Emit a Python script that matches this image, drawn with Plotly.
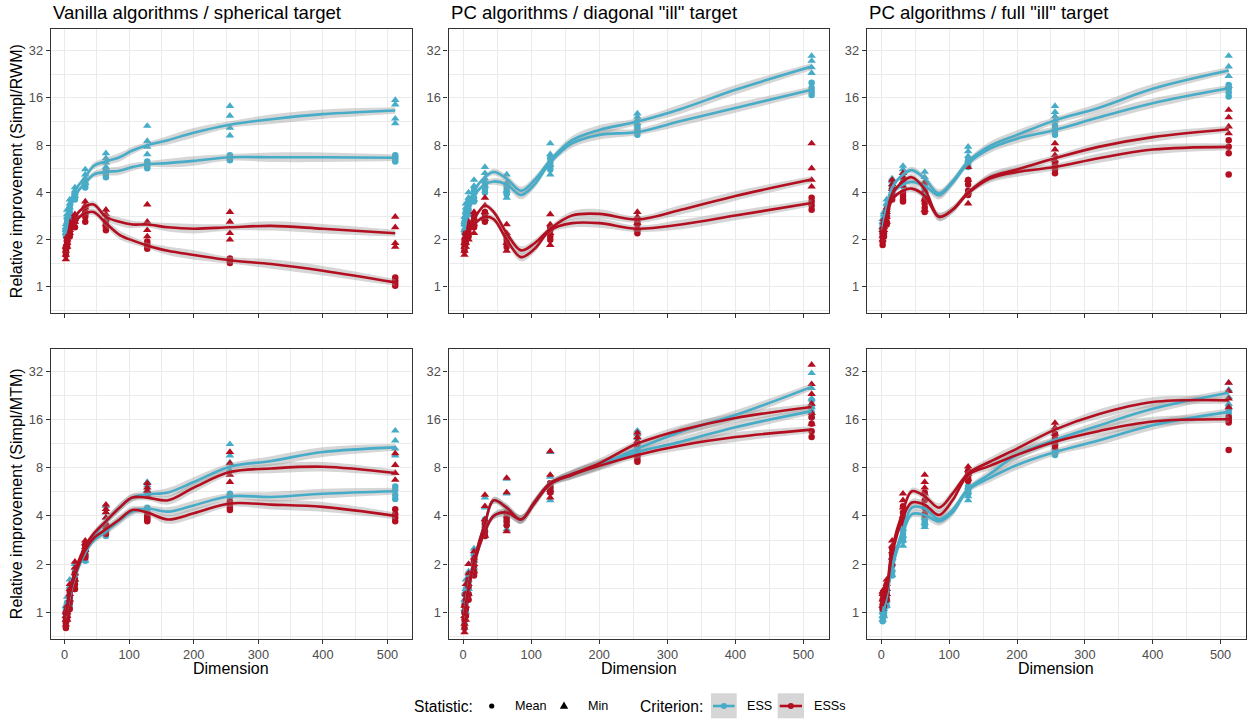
import math
import plotly.graph_objects as go

W, H = 1252, 720
C_ESS = "#46ACC8"
C_ESSS = "#B40F20"
FONT = "Liberation Sans, Arial, sans-serif"

# ---------------- data ----------------
dims = [2, 4, 8, 16, 32, 64, 128, 256, 512]
sm_x = [2, 8, 16, 32, 45, 64, 85, 105, 128, 160, 200, 256, 320, 400, 512]
band_hw = [0.08, 0.05, 0.05, 0.05, 0.07, 0.08, 0.09, 0.08, 0.06, 0.09, 0.10, 0.07, 0.10, 0.10, 0.07]

titles = ["Vanilla algorithms / spherical target",
          "PC algorithms / diagonal \"ill\" target",
          "PC algorithms / full \"ill\" target"]
ylabels = ["Relative improvement (Simpl/RWM)", "Relative improvement (Simpl/MTM)"]
x_ticks = [0, 100, 200, 300, 400, 500]
y_ticks = [1, 2, 4, 8, 16, 32]

# Panel 1: vanilla / spherical, Simpl/RWM
van_rwm_ess_min = [[2.2, 2.3, 2.4, 2.5], [2.6, 2.8, 2.9, 3.1], [3.0, 3.2, 3.4, 3.6], [3.8, 4.0, 4.1, 4.3], [4.6, 4.9, 5.2, 5.6], [5.8, 6.2, 6.6, 7.1], [7.0, 7.8, 8.5, 10.6], [9.2, 10.3, 12.3, 14.2], [11.0, 11.8, 14.5, 15.5]]
van_rwm_ess_mean = [[2.1, 2.2, 2.3, 2.3], [2.4, 2.5, 2.6, 2.7], [2.8, 2.9, 3.0, 3.2], [3.6, 3.7, 3.8, 3.9], [4.3, 4.5, 4.6, 4.8], [5.0, 5.2, 5.4, 5.6], [5.7, 5.9, 6.1, 6.3], [6.4, 6.6, 6.7, 6.9], [6.3, 6.5, 6.7, 6.9]]
van_rwm_esss_min = [[1.5, 1.6, 1.7, 1.8], [1.8, 1.9, 2.0, 2.1], [2.2, 2.3, 2.5, 2.6], [2.6, 2.7, 2.8, 2.9], [3.0, 3.2, 3.3, 3.5], [2.5, 2.7, 2.9, 3.1], [2.1, 2.3, 2.6, 3.35], [2.0, 2.2, 2.6, 3.0], [1.8, 1.9, 2.4, 2.8]]
van_rwm_esss_mean = [[1.6, 1.7, 1.75, 1.8], [1.8, 1.9, 1.95, 2.0], [2.1, 2.2, 2.3, 2.4], [2.4, 2.6, 2.7, 2.8], [2.6, 2.8, 2.9, 3.0], [2.3, 2.4, 2.5, 2.6], [1.75, 1.8, 1.88, 1.95], [1.42, 1.46, 1.5, 1.52], [1.02, 1.06, 1.1, 1.15]]
van_rwm_sm_ess_min = [2.3, 3.3, 4.1, 5.0, 5.9, 6.3, 6.7, 7.4, 8.0, 8.6, 9.6, 10.8, 11.7, 12.6, 13.3]
van_rwm_sm_ess_mean = [2.2, 3.0, 3.8, 4.6, 5.2, 5.4, 5.5, 5.8, 6.05, 6.15, 6.35, 6.7, 6.7, 6.7, 6.65]
van_rwm_sm_esss_min = [1.7, 2.4, 2.8, 3.25, 3.35, 2.8, 2.6, 2.5, 2.5, 2.4, 2.35, 2.4, 2.45, 2.35, 2.2]
van_rwm_sm_esss_mean = [1.7, 2.2, 2.6, 2.95, 3.0, 2.55, 2.15, 1.98, 1.84, 1.7, 1.6, 1.48, 1.4, 1.27, 1.07]

# Panel 2: PC / diagonal ill, Simpl/RWM
diag_rwm_ess_min = [[2.3, 2.5, 2.6, 2.8], [2.8, 3.0, 3.2, 3.4], [3.0, 3.4, 3.7, 4.0], [3.6, 4.0, 4.4, 4.8], [4.4, 4.9, 5.3, 5.8], [3.7, 4.1, 4.6, 5.2], [5.2, 6.0, 7.0, 8.2], [11.0, 11.6, 12.1, 12.7], [23.0, 25.0, 27.5, 29.6]]
diag_rwm_ess_mean = [[2.2, 2.3, 2.5, 2.6], [2.6, 2.7, 2.9, 3.0], [2.9, 3.1, 3.3, 3.5], [3.5, 3.7, 4.0, 4.2], [4.0, 4.2, 4.4, 4.6], [3.9, 4.0, 4.2, 4.4], [5.6, 5.9, 6.2, 6.6], [9.3, 9.7, 10.1, 10.5], [16.7, 17.5, 18.5, 20.0]]
diag_rwm_esss_min = [[1.6, 1.7, 1.8, 1.9], [1.8, 1.9, 2.1, 2.2], [2.0, 2.2, 2.4, 2.6], [2.2, 2.5, 2.7, 3.0], [2.7, 3.0, 3.3, 3.7], [1.7, 1.9, 2.2, 2.5], [1.85, 2.2, 2.5, 2.9], [2.35, 2.55, 2.8, 3.0], [4.35, 4.8, 5.7, 8.2]]
diag_rwm_esss_mean = [[1.7, 1.8, 1.9, 2.0], [1.9, 2.0, 2.1, 2.2], [2.1, 2.2, 2.4, 2.5], [2.4, 2.5, 2.7, 2.8], [2.6, 2.7, 2.9, 3.0], [1.8, 1.9, 2.0, 2.1], [2.0, 2.1, 2.3, 2.4], [2.2, 2.3, 2.5, 2.6], [3.1, 3.3, 3.5, 3.7]]
diag_rwm_sm_ess_min = [2.4, 3.3, 4.1, 5.0, 5.4, 4.9, 4.1, 4.8, 6.4, 8.6, 10.0, 11.3, 13.6, 18.0, 25.3]
diag_rwm_sm_ess_mean = [2.3, 3.1, 3.8, 4.5, 4.7, 4.5, 3.85, 4.5, 6.2, 8.2, 9.3, 9.7, 11.4, 13.8, 18.0]
diag_rwm_sm_esss_min = [1.8, 2.3, 2.7, 3.3, 3.0, 2.2, 1.71, 1.9, 2.35, 2.85, 2.92, 2.69, 3.1, 3.8, 4.83]
diag_rwm_sm_esss_mean = [1.8, 2.2, 2.5, 2.8, 2.7, 2.0, 1.55, 1.75, 2.3, 2.55, 2.55, 2.35, 2.5, 2.85, 3.43]

# Panel 3: PC / full ill, Simpl/RWM
full_rwm_ess_min = [[2.3, 2.4, 2.6, 2.7], [2.6, 2.8, 2.9, 3.0], [2.9, 3.1, 3.4, 3.6], [4.3, 4.5, 4.7, 4.9], [5.0, 5.3, 5.6, 5.9], [4.3, 4.7, 5.0, 5.4], [6.4, 6.8, 7.3, 7.8], [11.5, 12.2, 13.0, 14.2], [19.0, 22.0, 25.3, 29.6]]
full_rwm_ess_mean = [[2.2, 2.3, 2.4, 2.5], [2.5, 2.6, 2.8, 2.9], [2.8, 3.0, 3.1, 3.3], [3.9, 4.0, 4.2, 4.4], [4.4, 4.6, 4.8, 5.0], [3.9, 4.1, 4.3, 4.5], [5.8, 6.0, 6.2, 6.4], [9.3, 9.8, 10.2, 10.7], [16.3, 17.3, 18.3, 19.3]]
full_rwm_esss_min = [[2.0, 2.1, 2.3, 2.4], [2.3, 2.4, 2.6, 2.7], [2.6, 2.8, 3.0, 3.2], [3.9, 4.2, 4.5, 4.8], [4.4, 4.7, 5.0, 5.3], [3.1, 3.6, 4.1, 4.6], [3.4, 4.0, 4.8, 5.8], [6.4, 6.9, 7.5, 8.2], [9.5, 10.5, 12.0, 13.4]]
full_rwm_esss_mean = [[1.85, 1.95, 2.1, 2.2], [2.1, 2.2, 2.4, 2.5], [2.5, 2.6, 2.8, 3.0], [3.6, 3.8, 4.0, 4.2], [3.5, 3.6, 3.8, 4.0], [3.0, 3.2, 3.4, 3.6], [3.85, 4.1, 4.5, 4.8], [5.3, 5.6, 5.9, 6.1], [5.2, 7.1, 7.8, 8.6]]
full_rwm_sm_ess_min = [2.4, 3.3, 4.3, 5.2, 5.55, 4.9, 3.94, 4.7, 6.3, 7.9, 9.3, 11.5, 13.8, 18.3, 23.9]
full_rwm_sm_ess_mean = [2.3, 3.1, 3.9, 4.5, 4.67, 4.4, 3.84, 4.6, 6.1, 7.6, 8.8, 10.0, 12.0, 14.8, 18.4]
full_rwm_sm_esss_min = [2.2, 2.9, 3.9, 4.7, 5.0, 4.2, 2.8, 3.1, 4.0, 5.0, 5.6, 6.6, 7.8, 9.0, 10.1]
full_rwm_sm_esss_mean = [2.0, 2.7, 3.6, 4.1, 4.23, 3.8, 2.8, 3.1, 3.95, 4.9, 5.4, 5.8, 6.6, 7.5, 7.8]

# Panel 4: vanilla / spherical, Simpl/MTM
van_mtm_ess_min = [[0.9, 0.95, 1.0, 1.1], [1.0, 1.1, 1.15, 1.25], [1.2, 1.3, 1.45, 1.6], [1.6, 1.75, 1.9, 2.0], [2.1, 2.3, 2.5, 2.7], [3.6, 3.9, 4.2, 4.6], [5.5, 5.8, 6.2, 6.5], [7.7, 8.6, 9.5, 11.2], [9.5, 10.5, 11.8, 13.6]]
van_mtm_ess_mean = [[0.85, 0.9, 1.0, 1.05], [0.95, 1.0, 1.1, 1.15], [1.1, 1.2, 1.3, 1.4], [1.4, 1.5, 1.65, 1.8], [2.1, 2.2, 2.35, 2.5], [3.0, 3.1, 3.25, 3.4], [4.1, 4.2, 4.35, 4.5], [5.2, 5.3, 5.4, 5.5], [5.1, 5.4, 5.8, 6.1]]
van_mtm_esss_min = [[0.84, 0.9, 0.95, 1.0], [0.9, 0.95, 1.0, 1.1], [1.2, 1.3, 1.4, 1.5], [1.6, 1.75, 1.9, 2.07], [2.45, 2.55, 2.7, 2.8], [3.9, 4.2, 4.4, 4.7], [5.4, 5.7, 6.0, 6.4], [6.5, 7.2, 8.5, 10.0], [6.7, 7.4, 8.3, 9.8]]
van_mtm_esss_mean = [[0.8, 0.87, 0.93, 1.0], [0.9, 0.95, 1.0, 1.05], [1.05, 1.15, 1.25, 1.35], [1.4, 1.5, 1.6, 1.75], [2.2, 2.3, 2.45, 2.6], [3.1, 3.2, 3.35, 3.5], [3.7, 3.8, 3.9, 4.0], [4.35, 4.5, 4.7, 4.9], [3.7, 3.9, 4.1, 4.4]]
van_mtm_sm_ess_min = [1.0, 1.3, 1.75, 2.45, 3.0, 3.7, 4.5, 5.2, 5.45, 5.6, 6.5, 8.1, 8.8, 10.0, 10.7]
van_mtm_sm_ess_mean = [0.95, 1.25, 1.65, 2.35, 2.8, 3.2, 3.75, 4.25, 4.45, 4.25, 4.65, 5.3, 5.25, 5.5, 5.7]
van_mtm_sm_esss_min = [0.95, 1.35, 1.8, 2.6, 3.1, 3.7, 4.5, 5.2, 5.2, 5.0, 6.0, 7.5, 7.9, 8.1, 7.4]
van_mtm_sm_esss_mean = [0.95, 1.3, 1.7, 2.45, 2.9, 3.3, 3.8, 4.35, 4.2, 3.8, 4.15, 4.78, 4.7, 4.55, 4.0]

# Panel 5: PC / diagonal ill, Simpl/MTM
diag_mtm_ess_min = [[0.8, 0.95, 1.05, 1.2], [1.0, 1.2, 1.4, 1.6], [1.4, 1.6, 1.8, 2.0], [1.9, 2.1, 2.3, 2.5], [3.0, 3.8, 4.5, 5.2], [3.3, 4.0, 5.5, 6.8], [5.0, 5.6, 7.0, 10.0], [11.5, 12.2, 12.9, 13.6], [19.0, 21.5, 25.0, 31.0]]
diag_mtm_ess_mean = [[0.85, 1.0, 1.15, 1.3], [1.0, 1.15, 1.3, 1.4], [1.3, 1.4, 1.55, 1.7], [1.8, 1.95, 2.1, 2.3], [3.0, 3.2, 3.5, 3.8], [3.5, 3.7, 3.9, 4.2], [5.7, 5.9, 6.1, 6.4], [9.5, 10.0, 10.5, 11.0], [16.5, 17.8, 19.3, 21.0]]
diag_mtm_esss_min = [[0.75, 0.85, 0.95, 1.1], [0.9, 1.1, 1.3, 1.5], [1.3, 1.5, 1.75, 2.0], [1.8, 2.0, 2.2, 2.4], [3.0, 3.8, 4.6, 5.4], [3.2, 4.2, 5.6, 6.9], [5.2, 5.8, 7.2, 10.1], [11.0, 11.7, 12.4, 13.2], [15.0, 17.5, 20.0, 23.0, 26.5, 35.0]]
diag_mtm_esss_mean = [[0.8, 0.9, 1.0, 1.1], [0.95, 1.05, 1.2, 1.3], [1.2, 1.3, 1.45, 1.6], [1.7, 1.8, 1.95, 2.1], [3.0, 3.2, 3.4, 3.6], [3.5, 3.7, 3.9, 4.2], [5.6, 5.9, 6.1, 6.4], [8.7, 9.0, 9.4, 9.8], [12.4, 13.5, 15.0, 16.5]]
diag_mtm_sm_ess_min = [1.0, 1.5, 2.1, 3.6, 5.0, 4.5, 3.8, 4.9, 6.4, 7.3, 8.3, 10.5, 13.4, 17.0, 25.5]
diag_mtm_sm_ess_mean = [0.95, 1.4, 2.0, 3.2, 4.0, 4.2, 3.8, 4.8, 6.3, 7.2, 8.3, 10.0, 11.6, 14.3, 18.0]
diag_mtm_sm_esss_min = [0.95, 1.45, 2.1, 3.6, 5.0, 4.5, 3.8, 4.9, 6.4, 7.3, 8.5, 11.3, 13.7, 16.3, 19.1]
diag_mtm_sm_esss_mean = [0.95, 1.4, 2.0, 3.2, 4.0, 4.2, 3.8, 4.8, 6.3, 7.2, 8.2, 9.6, 11.0, 12.4, 13.8]

# Panel 6: PC / full ill, Simpl/MTM
full_mtm_ess_min = [[0.9, 0.95, 1.0, 1.1], [0.95, 1.05, 1.1, 1.2], [1.1, 1.2, 1.3, 1.4], [1.7, 1.85, 2.0, 2.2], [2.6, 2.8, 3.0, 3.3], [3.4, 3.6, 3.9, 4.2], [5.0, 5.3, 5.6, 6.0], [10.0, 10.6, 11.3, 12.0], [20.0, 22.0, 24.5, 27.0]]
full_mtm_ess_mean = [[0.88, 0.93, 1.0, 1.05], [0.95, 1.0, 1.05, 1.1], [1.1, 1.17, 1.25, 1.35], [1.7, 1.8, 1.95, 2.1], [2.8, 2.95, 3.1, 3.3], [3.5, 3.65, 3.8, 4.0], [5.5, 5.7, 5.9, 6.1], [9.6, 9.9, 10.2, 10.5], [16.5, 17.3, 18.2, 19.0]]
full_mtm_esss_min = [[1.1, 1.2, 1.3, 1.35], [1.2, 1.25, 1.35, 1.4], [1.3, 1.4, 1.5, 1.6], [2.2, 2.4, 2.6, 2.8], [4.0, 4.5, 5.0, 5.5], [5.5, 6.0, 6.5, 7.2], [6.8, 7.3, 7.7, 8.1], [12.0, 13.0, 14.2, 15.2], [19.0, 21.5, 24.0, 27.0]]
full_mtm_esss_mean = [[1.05, 1.12, 1.2, 1.3], [1.1, 1.2, 1.27, 1.35], [1.2, 1.3, 1.4, 1.5], [2.0, 2.15, 2.3, 2.5], [3.6, 3.9, 4.2, 4.6], [4.1, 4.5, 5.0, 5.6], [6.6, 6.9, 7.2, 7.6], [10.8, 11.5, 12.2, 13.0], [10.3, 15.3, 15.8, 16.5]]
full_mtm_sm_ess_min = [1.0, 1.3, 2.0, 3.3, 4.5, 4.45, 3.8, 4.35, 5.9, 7.3, 9.6, 11.9, 14.6, 18.6, 23.4]
full_mtm_sm_ess_mean = [0.95, 1.25, 1.9, 3.1, 4.1, 4.05, 3.7, 4.2, 5.8, 6.9, 8.3, 10.0, 11.8, 14.7, 17.8]
full_mtm_sm_esss_min = [1.2, 1.45, 2.5, 4.3, 5.7, 5.3, 4.5, 5.5, 7.36, 8.7, 10.5, 13.8, 17.2, 20.5, 21.0]
full_mtm_sm_esss_mean = [1.1, 1.35, 2.3, 3.9, 4.85, 4.7, 4.05, 5.0, 7.2, 8.2, 9.6, 11.6, 13.5, 15.5, 16.0]

# ---------------- layout geometry (pixels) ----------------
col_px = [(50.7, 411.7), (448.5, 829.0), (866.7, 1246.0)]
row_px = [(29.3, 313.0), (349.3, 639.0)]
x_range = [-21.5, 537.5]
y_range_log2 = [-0.55, 5.45]

panels = [
    dict(pts=[van_rwm_ess_mean, van_rwm_ess_min, van_rwm_esss_mean, van_rwm_esss_min],
         sm=[van_rwm_sm_ess_mean, van_rwm_sm_ess_min, van_rwm_sm_esss_mean, van_rwm_sm_esss_min]),
    dict(pts=[diag_rwm_ess_mean, diag_rwm_ess_min, diag_rwm_esss_mean, diag_rwm_esss_min],
         sm=[diag_rwm_sm_ess_mean, diag_rwm_sm_ess_min, diag_rwm_sm_esss_mean, diag_rwm_sm_esss_min]),
    dict(pts=[full_rwm_ess_mean, full_rwm_ess_min, full_rwm_esss_mean, full_rwm_esss_min],
         sm=[full_rwm_sm_ess_mean, full_rwm_sm_ess_min, full_rwm_sm_esss_mean, full_rwm_sm_esss_min]),
    dict(pts=[van_mtm_ess_mean, van_mtm_ess_min, van_mtm_esss_mean, van_mtm_esss_min],
         sm=[van_mtm_sm_ess_mean, van_mtm_sm_ess_min, van_mtm_sm_esss_mean, van_mtm_sm_esss_min]),
    dict(pts=[diag_mtm_ess_mean, diag_mtm_ess_min, diag_mtm_esss_mean, diag_mtm_esss_min],
         sm=[diag_mtm_sm_ess_mean, diag_mtm_sm_ess_min, diag_mtm_sm_esss_mean, diag_mtm_sm_esss_min]),
    dict(pts=[full_mtm_ess_mean, full_mtm_ess_min, full_mtm_esss_mean, full_mtm_esss_min],
         sm=[full_mtm_sm_ess_mean, full_mtm_sm_ess_min, full_mtm_sm_esss_mean, full_mtm_sm_esss_min]),
]
series_color = [C_ESS, C_ESS, C_ESSS, C_ESSS]
series_symbol = ["circle", "triangle-up", "circle", "triangle-up"]
series_size = [6.5, 7.5, 6.5, 7.5]


def px(x):
    return x / W


def py(y):
    return 1 - y / H


fig = go.Figure()

for i, p in enumerate(panels):
    ax = "" if i == 0 else str(i + 1)
    xa, ya = "x" + ax, "y" + ax
    # points
    for s in range(4):
        xs, ys = [], []
        for d, vals in zip(dims, p["pts"][s]):
            for v in vals:
                xs.append(d)
                ys.append(v)
        fig.add_trace(go.Scatter(x=xs, y=ys, mode="markers", xaxis=xa, yaxis=ya,
                                 marker=dict(color=series_color[s], symbol=series_symbol[s],
                                             size=series_size[s], line=dict(width=0)),
                                 showlegend=False, hoverinfo="skip"))
    # confidence bands
    for s in range(4):
        vals = p["sm"][s]
        lo = [v / 2 ** h for v, h in zip(vals, band_hw)]
        hi = [v * 2 ** h for v, h in zip(vals, band_hw)]
        fig.add_trace(go.Scatter(x=sm_x, y=lo, mode="lines", xaxis=xa, yaxis=ya,
                                 line=dict(width=0, shape="spline", smoothing=1.0),
                                 showlegend=False, hoverinfo="skip"))
        fig.add_trace(go.Scatter(x=sm_x, y=hi, mode="lines", xaxis=xa, yaxis=ya,
                                 line=dict(width=0, shape="spline", smoothing=1.0),
                                 fill="tonexty", fillcolor="rgba(153,153,153,0.4)",
                                 showlegend=False, hoverinfo="skip"))
    # smooth lines
    for s in range(4):
        fig.add_trace(go.Scatter(x=sm_x, y=p["sm"][s], mode="lines", xaxis=xa, yaxis=ya,
                                 line=dict(color=series_color[s], width=2.6, shape="spline", smoothing=1.0),
                                 showlegend=False, hoverinfo="skip"))

layout = dict(width=W, height=H, margin=dict(l=0, r=0, t=0, b=0),
              paper_bgcolor="white", plot_bgcolor="white", showlegend=False,
              font=dict(family=FONT, color="black"))

minor_x = [50, 150, 250, 350, 450]
minor_y = [2 ** (k + 0.5) for k in range(-1, 5)]
for i in range(6):
    r, c = divmod(i, 3)
    ax = "" if i == 0 else str(i + 1)
    x0, x1 = col_px[c]
    y0, y1 = row_px[r]
    common = dict(showline=True, mirror=True, linecolor="#333333", linewidth=1.2,
                  ticks="outside", ticklen=4, tickwidth=1.1, tickcolor="#333333",
                  showgrid=True, gridcolor="#EBEBEB", gridwidth=1.1, zeroline=False,
                  tickfont=dict(family=FONT, size=12.8, color="#4D4D4D"))
    layout["xaxis" + ax] = dict(common, domain=[px(x0), px(x1)], anchor="y" + ax,
                                range=x_range, tickvals=x_ticks,
                                ticktext=[str(t) for t in x_ticks],
                                showticklabels=(r == 1),
                                minor=dict(tickvals=minor_x, showgrid=True, gridcolor="#EBEBEB", gridwidth=0.55))
    layout["yaxis" + ax] = dict(common, domain=[py(y1), py(y0)], anchor="x" + ax, type="log",
                                range=[v * math.log10(2) for v in y_range_log2],
                                tickvals=y_ticks, ticktext=[str(t) for t in y_ticks],
                                minor=dict(tickvals=minor_y, showgrid=True, gridcolor="#EBEBEB", gridwidth=0.55))

annotations = []
for c in range(3):
    annotations.append(dict(text=titles[c], x=px(col_px[c][0]), y=py(12.5), xref="paper", yref="paper",
                            xanchor="left", yanchor="middle", showarrow=False,
                            font=dict(family=FONT, size=18.6, color="black")))
    annotations.append(dict(text="Dimension", x=px((col_px[c][0] + col_px[c][1]) / 2), y=py(668),
                            xref="paper", yref="paper", xanchor="center", yanchor="middle",
                            showarrow=False, font=dict(family=FONT, size=16, color="black")))
for r in range(2):
    annotations.append(dict(text=ylabels[r], x=px(16), y=py((row_px[r][0] + row_px[r][1]) / 2),
                            xref="paper", yref="paper", xanchor="center", yanchor="middle",
                            textangle=-90, showarrow=False,
                            font=dict(family=FONT, size=16, color="black")))

# ---------------- legend (bottom) ----------------
LY = 706
leg_texts = [("Statistic:", 411.7, 15.6), ("Mean", 512.7, 12.6), ("Min", 585.7, 12.6),
             ("Criterion:", 638.0, 15.6), ("ESS", 745.0, 12.6), ("ESSs", 812.3, 12.6)]
for t, x, sz in leg_texts:
    annotations.append(dict(text=t, x=px(x), y=py(LY), xref="paper", yref="paper",
                            xanchor="left", yanchor="middle", showarrow=False,
                            font=dict(family=FONT, size=sz, color="black")))

shapes = []
# statistic keys
shapes.append(dict(type="circle", xref="paper", yref="paper", x0=px(491.7 - 2.6), x1=px(491.7 + 2.6),
                   y0=py(LY + 2.6), y1=py(LY - 2.6), fillcolor="black", line=dict(width=0)))
tx, ty = 564.0, 705.5
tri = "M {:.5f},{:.5f} L {:.5f},{:.5f} L {:.5f},{:.5f} Z".format(
    px(tx), py(ty - 4.0), px(tx - 4.2), py(ty + 3.2), px(tx + 4.2), py(ty + 3.2))
shapes.append(dict(type="path", xref="paper", yref="paper", path=tri, fillcolor="black", line=dict(width=0)))
# criterion keys
for (bx0, bx1), col in [((711.0, 736.7), C_ESS), ((777.7, 804.0), C_ESSS)]:
    shapes.append(dict(type="rect", xref="paper", yref="paper", x0=px(bx0), x1=px(bx1),
                       y0=py(718.3), y1=py(693.3), fillcolor="#D6D6D6", line=dict(width=0)))
    shapes.append(dict(type="line", xref="paper", yref="paper", x0=px(bx0 + 2), x1=px(bx1 - 2),
                       y0=py(LY), y1=py(LY), line=dict(color=col, width=2.6)))
    cx = (bx0 + bx1) / 2
    shapes.append(dict(type="circle", xref="paper", yref="paper", x0=px(cx - 3), x1=px(cx + 3),
                       y0=py(LY + 3), y1=py(LY - 3), fillcolor=col, line=dict(width=0)))

layout["annotations"] = annotations
layout["shapes"] = shapes
fig.update_layout(**layout)

fig.write_html("out.html", config={"displayModeBar": False},
               post_script="document.body.style.margin='0';document.body.style.overflow='hidden';")
